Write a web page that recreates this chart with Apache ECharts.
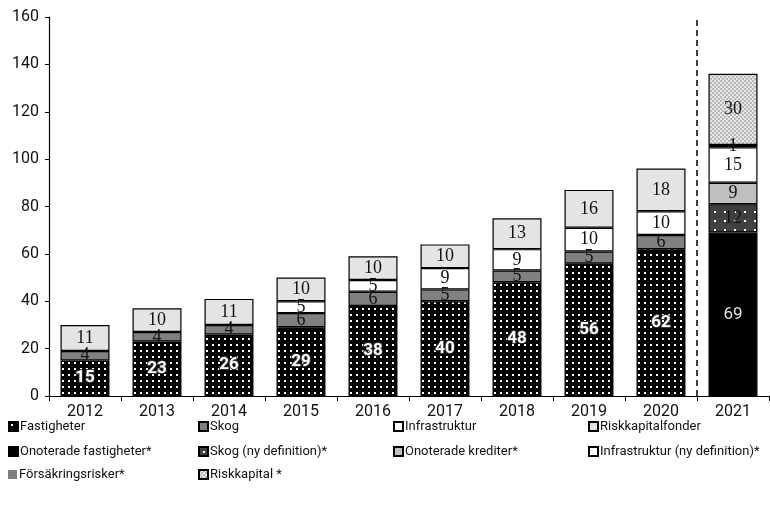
<!DOCTYPE html>
<html><head><meta charset="utf-8">
<script src="https://cdn.jsdelivr.net/npm/echarts@6/dist/echarts.min.js"></script>
<style>html,body{margin:0;padding:0;background:#fff}#c{width:770px;height:508px}</style>
</head><body><div id="c"></div>
<script>
const years = ['2012','2013','2014','2015','2016','2017','2018','2019','2020','2021'];
const fastigheter          = [15,23,26,29,38,40,48,56,62,null];
const skog                 = [4,4,4,6,6,5,5,5,6,null];
const infrastruktur        = [null,null,null,5,5,9,9,10,10,null];
const riskkapitalfonder    = [11,10,11,10,10,10,13,16,18,null];
const onoteradeFastigheter = [null,null,null,null,null,null,null,null,null,69];
const skogNy               = [null,null,null,null,null,null,null,null,null,12];
const onoteradeKrediter    = [null,null,null,null,null,null,null,null,null,9];
const infrastrukturNy      = [null,null,null,null,null,null,null,null,null,15];
const forsakringsrisker    = [null,null,null,null,null,null,null,null,null,1];
const riskkapital          = [null,null,null,null,null,null,null,null,null,30];
const yMin = 0, yMax = 160, yStep = 20;
const dividerAt = 9; // boundary before the 2021 category

const SANS = "Roboto,'Liberation Sans',sans-serif";
const SERIF = "'Liberation Serif','DejaVu Serif',serif";

function dotPattern(bg, dot, w, h, size, offset) {
  const c = document.createElement('canvas'); c.width = w; c.height = h;
  const g = c.getContext('2d');
  g.fillStyle = bg; g.fillRect(0,0,w,h);
  g.fillStyle = dot; g.fillRect(offset, offset, size, size);
  return {image: c, repeat: 'repeat'};
}
function checkPattern() {
  const c = document.createElement('canvas'); c.width = 4; c.height = 4;
  const g = c.getContext('2d');
  g.fillStyle = '#e6e6e6'; g.fillRect(0,0,4,4);
  g.fillStyle = '#b8b8b8'; g.fillRect(0,0,2,2); g.fillRect(2,2,2,2);
  return {image: c, repeat: 'repeat'};
}

const fastPat = dotPattern('#000', '#fff', 6, 6, 2, 2);
const skogNyPat = dotPattern('#404040', '#fff', 10, 9, 2, 4);
const riskPat = checkPattern();

const serifLabel = {show: true, position: 'inside', color: '#111', fontFamily: SERIF, fontSize: 18};

function bar(name, data, color, label, extra) {
  return Object.assign({
    name, type: 'bar', stack: 'total', data, barWidth: 49,
    itemStyle: {color, borderColor: '#000', borderWidth: 1.2},
    label: Object.assign({}, serifLabel, label || {}),
    emphasis: {disabled: true}
  }, extra || {});
}

const series = [
  bar('Fastigheter', fastigheter, fastPat, {color: '#fff', fontFamily: SANS, fontWeight: 'bold', fontSize: 17, textBorderColor: '#333', textBorderWidth: 2}),
  bar('Skog', skog, '#808080'),
  bar('Infrastruktur', infrastruktur, '#ffffff'),
  bar('Riskkapitalfonder', riskkapitalfonder, '#e4e4e4'),
  bar('Onoterade fastigheter*', onoteradeFastigheter, '#000000', {color: '#e0e0e0', fontFamily: SANS, fontSize: 17}),
  bar('Skog (ny definition)*', skogNy, skogNyPat),
  bar('Onoterade krediter*', onoteradeKrediter, '#bfbfbf'),
  bar('Infrastruktur (ny definition)*', infrastrukturNy, '#ffffff'),
  bar('Försäkringsrisker*', forsakringsrisker, '#7f7f7f'),
  bar('Riskkapital *', riskkapital, riskPat),
  {
    name: 'divider', type: 'line', xAxisIndex: 1, yAxisIndex: 0,
    data: [[dividerAt, yMin], [dividerAt, yMax]], symbol: 'none', silent: true,
    lineStyle: {color: '#000', width: 1.5, type: [6, 4]}, z: 5
  }
];

const legendRows = [
  ['Fastigheter', 'Skog', 'Infrastruktur', 'Riskkapitalfonder'],
  ['Onoterade fastigheter*', 'Skog (ny definition)*', 'Onoterade krediter*', 'Infrastruktur (ny definition)*'],
  ['Försäkringsrisker*', 'Riskkapital *']
];
const colX = [8, 198, 393, 588];
const rowY = [420, 445, 468];
const legends = [];
legendRows.forEach((row, r) => row.forEach((name, c) => {
  const item = name === 'Försäkringsrisker*' ? {name, itemStyle: {borderWidth: 0}} : {name};
  legends.push({
    data: [item], left: colX[c], top: rowY[r], itemWidth: 9, itemHeight: 9,
    padding: 0, itemGap: 0, icon: 'rect', selectedMode: false,
    textStyle: {fontFamily: SANS, fontSize: 13, color: '#111', padding: [0,0,0,-3]}
  });
}));

const chart = echarts.init(document.getElementById('c'), null, {renderer: 'canvas'});
chart.setOption({
  animation: false,
  backgroundColor: '#fff',
  grid: {left: 49, right: 1, top: 17, bottom: 112, containLabel: false},
  legend: legends,
  xAxis: [{
    type: 'category', data: years,
    axisLine: {lineStyle: {color: '#000', width: 1.2}},
    axisTick: {show: true, length: 5, lineStyle: {color: '#000'}},
    axisLabel: {fontFamily: SANS, fontSize: 16, color: '#111', margin: 8}
  }, {
    type: 'value', min: 0, max: years.length, show: false
  }],
  yAxis: {
    type: 'value', min: yMin, max: yMax, interval: yStep,
    axisLine: {show: true, lineStyle: {color: '#000', width: 1.2}},
    axisTick: {show: true, length: 4, lineStyle: {color: '#000'}},
    splitLine: {show: false},
    axisLabel: {fontFamily: SANS, fontSize: 16, color: '#111', margin: 10}
  },
  series
});
</script></body></html>
